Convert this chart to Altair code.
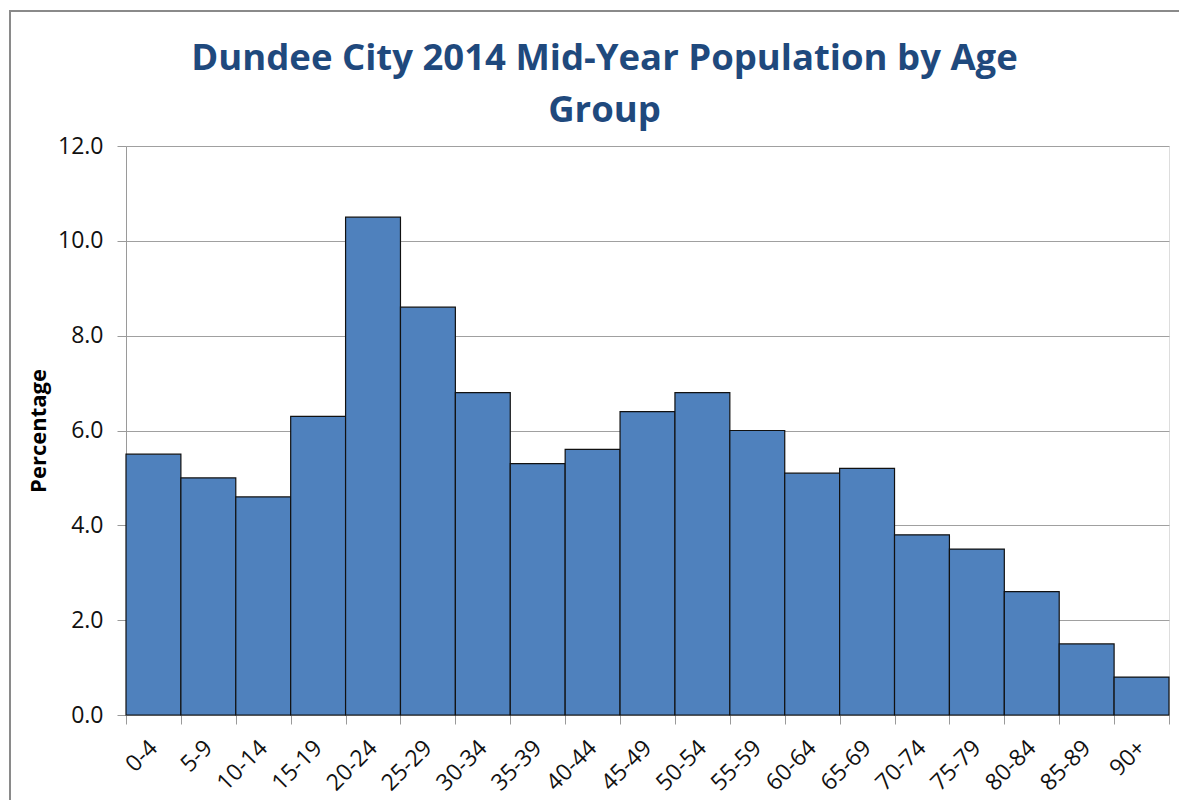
import altair as alt
import pandas as pd

age_groups = ["0-4", "5-9", "10-14", "15-19", "20-24", "25-29", "30-34", "35-39",
              "40-44", "45-49", "50-54", "55-59", "60-64", "65-69", "70-74",
              "75-79", "80-84", "85-89", "90+"]
percentages = [5.5, 5.0, 4.6, 6.3, 10.5, 8.6, 6.8, 5.3, 5.6, 6.4, 6.8, 6.0,
               5.1, 5.2, 3.8, 3.5, 2.6, 1.5, 0.8]
y_ticks = [0, 2, 4, 6, 8, 10, 12]

df = pd.DataFrame({"age": age_groups, "pct": percentages})

FONT = "Open Sans"

frame = alt.Chart(pd.DataFrame({"a": [0]})).mark_rect(
    fill=None, fillOpacity=0, stroke="#8a8a8a", strokeWidth=2
).encode(
    x=alt.value(-116), x2=alt.value(1100), y=alt.value(-135), y2=alt.value(700)
)

bars = alt.Chart(df).mark_bar(
    color="#4F81BD", stroke="#111111", strokeWidth=1.2
).encode(
    x=alt.X("age:N", sort=age_groups,
            scale=alt.Scale(paddingInner=0, paddingOuter=0),
            axis=alt.Axis(title=None, labelAngle=-45, labelAlign="right",
                          labelBaseline="middle", labelFontSize=23,
                          labelFont=FONT, labelColor="#111111",
                          tickBand="extent", tickSize=9, tickColor="#9a9a9a",
                          domainColor="#9a9a9a", labelPadding=20,
                          grid=False)),
    y=alt.Y("pct:Q", scale=alt.Scale(domain=[0, 12], nice=False),
            axis=alt.Axis(title="Percentage", values=y_ticks, format=".1f",
                          titleFont=FONT, titleFontSize=22, titleFontWeight="bold",
                          titleColor="#000000", titlePadding=7,
                          labelFont=FONT, labelFontSize=23, labelColor="#111111",
                          labelPadding=14, tickSize=9, tickColor="#9a9a9a",
                          domainColor="#9a9a9a", gridColor="#a0a0a0",
                          grid=True)),
)

chart = alt.layer(frame, bars).properties(
    width=1043, height=569,
    autosize=alt.AutoSizeParams(type="none"),
    padding={"left": 118, "top": 138, "right": 10, "bottom": 85},
    title=alt.TitleParams(
        text=["Dundee City 2014 Mid-Year Population by Age", "Group"],
        font=FONT, fontSize=36.5, fontWeight="bold", color="#1F497D",
        anchor="middle", frame="group", dx=-43, offset=-119, lineHeight=52,
    ),
).configure_view(stroke=None).configure(background="white")

chart.save("out.html", embed_options={"renderer": "svg", "actions": False})
